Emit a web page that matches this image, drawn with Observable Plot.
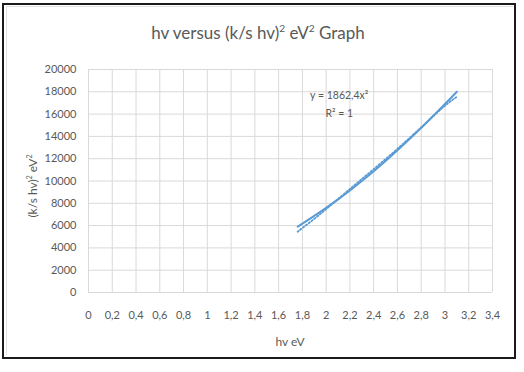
<!DOCTYPE html>
<html>
<head>
<meta charset="utf-8">
<script src="https://cdn.jsdelivr.net/npm/d3@7"></script>
<script src="https://cdn.jsdelivr.net/npm/@observablehq/plot@0.6"></script>
<style>
  html, body { margin: 0; padding: 0; background: #fff; }
  #wrap { position: relative; width: 524px; height: 372px; overflow: hidden; font-family: Lato, "Open Sans", sans-serif; }
  #frame { position: absolute; left: 2px; top: 3px; width: 510px; height: 352px; border: 2px solid #1a1a1a; }
  #inner { position: absolute; left: 6px; top: 6px; width: 506px; height: 348px; border-top: 1px solid #e3e3e3; border-left: 1px solid #e3e3e3; }
  #title { position: absolute; left: 0; width: 516px; top: 22px; text-align: center; font-size: 17px; color: #595959; }
  #xtitle { position: absolute; left: 88px; width: 404px; top: 334px; text-align: center; font-size: 12px; color: #595959; }
  #ytitle { position: absolute; left: 32px; top: 186px; transform: translate(-50%, -50%) rotate(-90deg); white-space: nowrap; font-size: 12px; color: #595959; }
  #chart { position: absolute; left: 0; top: 0; }
  sup { font-size: 0.6em; }
</style>
</head>
<body>
<div id="wrap">
  <div id="frame"></div>
  <div id="inner"></div>
  <div id="title">hv versus (k/s hv)<sup>2</sup> eV<sup>2</sup> Graph</div>
  <div id="ytitle">(k/s hv)<sup>2</sup> eV<sup>2</sup></div>
  <div id="xtitle">hv eV</div>
  <div id="chart"></div>
</div>
<script>
// Data
const hv       = [1.76, 1.8, 1.9, 2.0, 2.1, 2.2, 2.3, 2.4, 2.5, 2.6, 2.7, 2.8, 2.9, 3.0, 3.1];
const measured = [5900, 6180, 6870, 7590, 8350, 9150, 10000, 10880, 11800, 12760, 13750, 14770, 15830, 16900, 18000];
const trend    = [5450, 5780, 6600, 7480, 8380, 9280, 10180, 11060, 11960, 12890, 13840, 14800, 15790, 16750, 17550];
const xTicks = [0, 0.2, 0.4, 0.6, 0.8, 1, 1.2, 1.4, 1.6, 1.8, 2, 2.2, 2.4, 2.6, 2.8, 3, 3.2, 3.4];
const yTicks = [0, 2000, 4000, 6000, 8000, 10000, 12000, 14000, 16000, 18000, 20000];
const eqLabels = ["y = 1862,4x²", "R² = 1"];
const eqX = [2.11, 2.11];
const eqY = [17650, 16050];

const measuredData = hv.map((x, i) => ({x, y: measured[i]}));
const trendData = hv.map((x, i) => ({x, y: trend[i]}));
const eqData = eqLabels.map((t, i) => ({t, x: eqX[i], y: eqY[i]}));

const chart = Plot.plot({
  width: 524,
  height: 372,
  marginLeft: 88,
  marginRight: 32,
  marginTop: 69,
  marginBottom: 80,
  style: {fontFamily: "Lato, 'Open Sans', sans-serif", fontSize: "11px", color: "#595959", background: "transparent"},
  x: {domain: [0, 3.4], ticks: xTicks},
  y: {domain: [0, 20000], ticks: yTicks},
  marks: [
    Plot.gridX(xTicks, {stroke: "#d9d9d9", strokeOpacity: 1}),
    Plot.gridY(yTicks, {stroke: "#d9d9d9", strokeOpacity: 1}),
    Plot.axisX(xTicks, {tickSize: 0, tickPadding: 19, label: null, tickFormat: d => String(d).replace(".", ","), fill: "#595959", fontSize: 11}),
    Plot.axisY(yTicks, {tickSize: 0, tickPadding: 12, label: null, tickFormat: d => String(d), fill: "#595959", fontSize: 11}),
    Plot.line(trendData, {x: "x", y: "y", stroke: "#5b9bd5", strokeWidth: 1.8, strokeDasharray: "1.5,2", curve: "natural"}),
    Plot.line(measuredData, {x: "x", y: "y", stroke: "#5b9bd5", strokeWidth: 2, curve: "natural"}),
    Plot.text(eqData, {x: "x", y: "y", text: "t", fill: "#595959", fontSize: 10.5, textAnchor: "middle"})
  ]
});
document.getElementById("chart").appendChild(chart);
</script>
</body>
</html>
